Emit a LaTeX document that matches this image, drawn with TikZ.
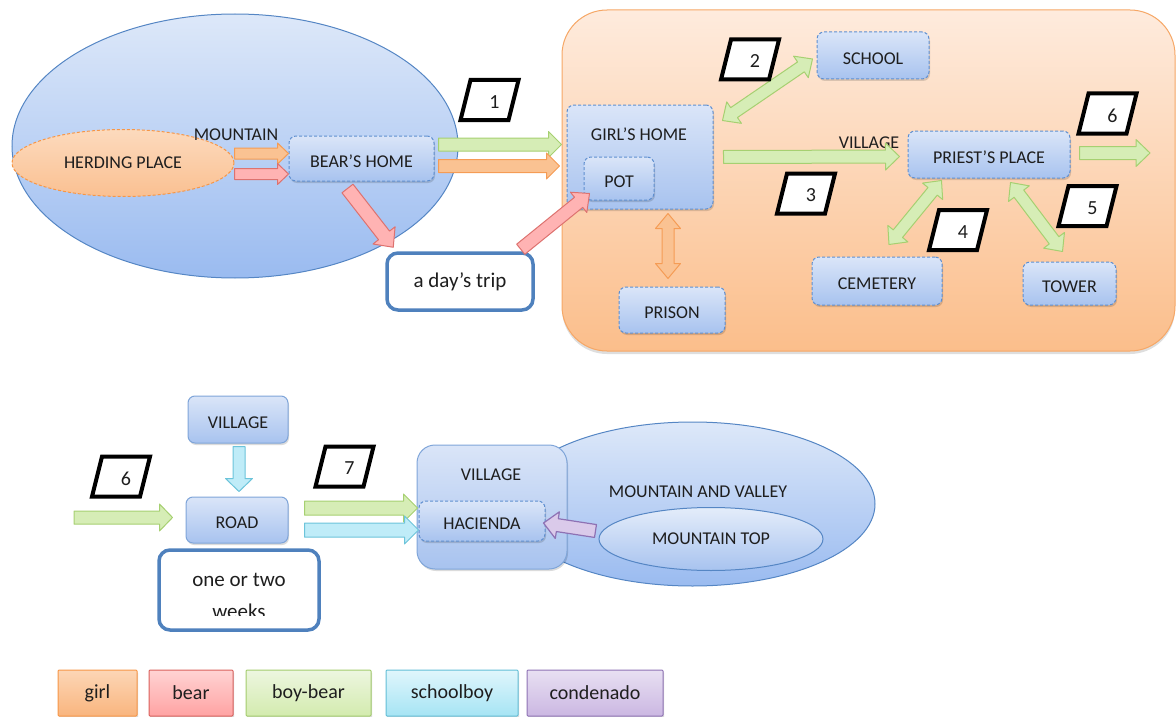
\documentclass[tikz,border=0pt]{standalone}
\usepackage{fontspec}
\setmainfont{Carlito}
\usetikzlibrary{calc,shapes.geometric,shadows}

% palette
\definecolor{boxtop}{HTML}{DAE5F8}
\definecolor{boxbot}{HTML}{A8C3EF}
\definecolor{boxedge}{HTML}{5F8FD0}
\definecolor{elltop}{HTML}{DDE8F9}
\definecolor{ellbot}{HTML}{9ABBF0}
\definecolor{elledge}{HTML}{5586C4}
\definecolor{vtop}{HTML}{FEEBDD}
\definecolor{vbot}{HTML}{FBBE8B}
\definecolor{vedge}{HTML}{F6A766}
\definecolor{ortop}{HTML}{FCD6B6}
\definecolor{orbot}{HTML}{F9B57E}
\definecolor{oredge}{HTML}{F79646}
\definecolor{rdtop}{HTML}{FFD3D3}
\definecolor{rdbot}{HTML}{FFA3A3}
\definecolor{rdedge}{HTML}{D9605C}
\definecolor{grtop}{HTML}{EDF6E0}
\definecolor{grbot}{HTML}{D3EBAE}
\definecolor{gredge}{HTML}{A3CC6D}
\definecolor{cytop}{HTML}{E0F6FC}
\definecolor{cybot}{HTML}{A6E4F4}
\definecolor{cyedge}{HTML}{62BED6}
\definecolor{putop}{HTML}{E8E0F2}
\definecolor{pubot}{HTML}{CBB7E2}
\definecolor{puedge}{HTML}{8E72B4}
\definecolor{noteedge}{HTML}{4F81BD}
\definecolor{agreen}{HTML}{D6EDB6}
\definecolor{agreenedge}{HTML}{A6D071}
\definecolor{aorange}{HTML}{FAC292}
\definecolor{aorangeedge}{HTML}{F59C55}
\definecolor{ared}{HTML}{FFB3B3}
\definecolor{arededge}{HTML}{DD726F}
\definecolor{acyan}{HTML}{BFECF8}
\definecolor{acyanedge}{HTML}{6CC4DA}
\definecolor{apurple}{HTML}{DACAEA}
\definecolor{apurpleedge}{HTML}{8E72B4}
\definecolor{ink}{HTML}{1E1E1E}

\newcommand\boxfont{\fontsize{18}{21}\selectfont}
\newcommand\bigfont{\fontsize{21}{30}\selectfont}
\newcommand\keyfont{\fontsize{20}{24}\selectfont}

% block arrow: style, tail, tip, half shaft, half head, head length
\newcommand\BlkArrow[6]{%
  \coordinate (hd) at ($(#3)!#6!(#2)$);
  \path[#1] ($(#2)!#4!90:(#3)$) -- ($(hd)!#4!90:(#3)$) -- ($(hd)!#5!90:(#3)$) -- (#3)
    -- ($(hd)!#5!-90:(#3)$) -- ($(hd)!#4!-90:(#3)$) -- ($(#2)!#4!-90:(#3)$) -- cycle;
}
% double-headed block arrow: style, end a, end b, half shaft, half head, head length
\newcommand\BlkDArrow[6]{%
  \coordinate (hda) at ($(#2)!#6!(#3)$);
  \coordinate (hdb) at ($(#3)!#6!(#2)$);
  \path[#1] (#2) -- ($(hda)!#5!90:(#3)$) -- ($(hda)!#4!90:(#3)$) -- ($(hdb)!#4!90:(#3)$)
    -- ($(hdb)!#5!90:(#3)$) -- (#3) -- ($(hdb)!#5!-90:(#3)$) -- ($(hdb)!#4!-90:(#3)$)
    -- ($(hda)!#4!-90:(#3)$) -- ($(hda)!#5!-90:(#3)$) -- cycle;
}
% slanted number tag: name, x, y, number
\newcommand\NumTag[4]{%
  \path[tagline] (#2-29,#3+20) -- (#2+19,#3+20) -- (#2+29,#3-20) -- (#2-19,#3-20) -- cycle;
  \node[tagnum] (#1) at (#2+5,#3+2) {#4};
}

\tikzset{
  every node/.style={text=ink},
  lbl/.style={font=\boxfont, inner sep=0pt},
  softshadow/.style={drop shadow={shadow xshift=1pt, shadow yshift=-2pt, opacity=0.14, fill=black}},
  place/.style={rectangle, rounded corners=7pt, draw=boxedge, line width=1pt,
    dash pattern=on 3pt off 2pt, top color=boxtop, bottom color=boxbot, font=\boxfont,
    inner sep=0pt, text height=17.4pt, text depth=0pt, softshadow},
  solidplace/.style={place, solid, draw=boxedge!80},
  hill/.style={ellipse, draw=elledge, line width=1pt, top color=elltop, bottom color=ellbot, inner sep=0pt},
  herdshape/.style={ellipse, draw=oredge, line width=1pt, dash pattern=on 3pt off 2pt,
    top color=ortop!90, bottom color=orbot!85, font=\boxfont, inner sep=0pt},
  vilarea/.style={rectangle, rounded corners=45pt, draw=vedge, line width=1pt,
    top color=vtop, bottom color=vbot, inner sep=0pt,
    drop shadow={shadow xshift=0pt, shadow yshift=-3pt, opacity=0.13, fill=black}},
  note/.style={rectangle, rounded corners=11pt, draw=noteedge, line width=3.5pt, fill=white,
    font=\bigfont, inner sep=0pt},
  key/.style={rectangle, rounded corners=1pt, line width=1pt, font=\keyfont, inner sep=0pt,
    minimum height=46pt, softshadow},
  garrow/.style={fill=agreen, draw=agreenedge, line width=1pt, line join=round},
  oarrow/.style={fill=aorange, draw=aorangeedge, line width=1pt, line join=round},
  rarrow/.style={fill=ared, draw=arededge, line width=1pt, line join=round},
  carrow/.style={fill=acyan, draw=acyanedge, line width=1pt, line join=round},
  parrow/.style={fill=apurple, draw=apurpleedge, line width=1.2pt, line join=round},
  tagline/.style={draw=black, fill=white, line width=4pt, line join=miter},
  tagnum/.style={font=\keyfont, inner sep=0pt}
}

\begin{document}
\begin{tikzpicture}[x=1pt, y=-1pt]
\useasboundingbox (0,0) rectangle (1176,717);

% ---------- mountain ----------
\node[hill, minimum width=446pt, minimum height=264pt] (mtn) at (235,146) {};
\node[herdshape, minimum width=222pt, minimum height=67pt] (herd) at (123,163) {HERDING PLACE};
\node[lbl] (mtnlbl) at (236,135) {MOUNTAIN};
\node[place, minimum width=145pt, minimum height=45pt] (bear) at (361.5,158.5) {BEAR’S HOME};

% ---------- village ----------
\node[vilarea, minimum width=613pt, minimum height=341pt] (vil) at (868.5,180.5) {};
\node[place, minimum width=146pt, minimum height=104pt] (girl) at (640,157) {};
\node[lbl] (girllbl) at (639,134) {GIRL’S HOME};
\node[place, minimum width=70pt, minimum height=43pt] (pot) at (619,178.5) {POT};
\node[place, minimum width=106pt, minimum height=46pt] (prison) at (672,310) {PRISON};
\node[place, minimum width=112pt, minimum height=47pt] (school) at (873,55.5) {SCHOOL};
\node[lbl] (vlbl) at (869,143) {VILLAGE};
\node[place, minimum width=162pt, minimum height=47pt] (priest) at (989,154.5) {PRIEST’S PLACE};
\node[place, minimum width=130pt, minimum height=48pt] (cem) at (877,281) {CEMETERY};
\node[place, minimum width=93pt, minimum height=43pt] (tower) at (1069.5,283.5) {TOWER};

\node[note, minimum width=146pt, minimum height=57pt] (trip) at (460,281.5) {a day’s trip};

% ---------- second journey ----------
\node[hill, minimum width=365pt, minimum height=164pt] (mv) at (692.5,504) {};
\node[lbl] (mvlbl) at (698,492) {MOUNTAIN AND VALLEY};
\node[hill, top color=elltop!80!white, bottom color=boxbot, minimum width=224pt, minimum height=63pt,
  font=\boxfont] (mtop) at (711,539) {MOUNTAIN TOP};
\node[solidplace, rounded corners=18pt, minimum width=150pt, minimum height=124pt] (vill2) at (492,507) {};
\node[lbl] (vill2lbl) at (491,475) {VILLAGE};
\node[place, minimum width=126pt, minimum height=40pt] (hac) at (482,521) {HACIENDA};
\node[solidplace, minimum width=100pt, minimum height=47pt] (vb) at (238,419.5) {VILLAGE};
\node[solidplace, minimum width=102pt, minimum height=46pt] (road) at (237,520) {ROAD};

\node[note, minimum width=160pt, minimum height=80pt] (weeks) at (239,590) {};
\begin{scope}
  \clip (150,540) rectangle (330,615);
  \node[font=\bigfont, inner sep=0pt, anchor=base] (weeks1) at (239,586) {one or two};
  \node[font=\bigfont, inner sep=0pt, anchor=base] (weeks2) at (239,618) {weeks};
\end{scope}

% ---------- arrows, first part ----------
\coordinate (a1s) at ($(herd.east)+(0,-9.5)$);
\coordinate (a1e) at ($(bear.west)+(0,-5)$);
\coordinate (a2s) at ($(herd.east)+(0,11)$);
\coordinate (a2e) at ($(bear.west)+(0,15.5)$);
\BlkArrow{oarrow}{a1s}{a1e}{5.5pt}{10.5pt}{11pt}
\BlkArrow{rarrow}{a2s}{a2e}{5.5pt}{10.5pt}{11pt}

\coordinate (b1s) at ($(bear.east)+(4,-14)$);
\coordinate (b1e) at ($(girl.west)+(-5,-12.5)$);
\coordinate (b2s) at ($(bear.east)+(4,7.5)$);
\coordinate (b2e) at ($(girl.west)+(-7,9)$);
\BlkArrow{garrow}{b1s}{b1e}{6.5pt}{13pt}{13pt}
\BlkArrow{oarrow}{b2s}{b2e}{6.5pt}{13pt}{13pt}

\coordinate (c1s) at ($(bear.south)+(-14,7)$);
\coordinate (c1e) at ($(trip.north west)+(8,-4)$);
\BlkArrow{rarrow}{c1s}{c1e}{7pt}{14pt}{15pt}
\coordinate (c2s) at ($(trip.north east)+(-14,-2)$);
\coordinate (c2e) at ($(pot.south west)+(6,-7)$);
\BlkArrow{rarrow}{c2s}{c2e}{6.5pt}{13pt}{14pt}

\coordinate (d1a) at ($(girl.north east)+(9,16)$);
\coordinate (d1b) at ($(school.west)+(-4,3.5)$);
\BlkDArrow{garrow}{d1a}{d1b}{6pt}{13pt}{14pt}

\coordinate (d2a) at ($(girl.south)+(28,4)$);
\coordinate (d2b) at ($(prison.north)+(-4,-8)$);
\BlkDArrow{oarrow}{d2a}{d2b}{6pt}{12.5pt}{15pt}

\coordinate (e1s) at ($(girl.east)+(10,0)$);
\coordinate (e1e) at ($(priest.west)+(-8,2)$);
\BlkArrow{garrow}{e1s}{e1e}{6.5pt}{13.5pt}{14pt}

\coordinate (f1s) at ($(priest.east)+(9,-1.5)$);
\coordinate (f1e) at (1150,153);
\BlkArrow{garrow}{f1s}{f1e}{6.5pt}{13.5pt}{14pt}

\coordinate (g1a) at ($(priest.south west)+(34,2)$);
\coordinate (g1b) at ($(cem.north)+(12,-12)$);
\BlkDArrow{garrow}{g1a}{g1b}{6pt}{13pt}{14pt}
\coordinate (g2a) at ($(priest.south east)+(-60,4)$);
\coordinate (g2b) at ($(tower.north)+(-7,-10)$);
\BlkDArrow{garrow}{g2a}{g2b}{6pt}{13pt}{14pt}

% ---------- arrows, second part ----------
\coordinate (h1s) at (74,517.5);
\coordinate (h1e) at ($(road.west)+(-13,-2.5)$);
\BlkArrow{garrow}{h1s}{h1e}{6.5pt}{13.5pt}{13pt}

\coordinate (h2s) at ($(vb.south)+(1,3)$);
\coordinate (h2e) at ($(road.north)+(2,-5)$);
\BlkArrow{carrow}{h2s}{h2e}{6pt}{13.5pt}{13pt}

\coordinate (h3s) at ($(road.east)+(16,-12)$);
\coordinate (h3e) at ($(hac.west)+(-1,-13)$);
\BlkArrow{garrow}{h3s}{h3e}{7pt}{14pt}{14pt}
\coordinate (h4s) at ($(road.east)+(16,10)$);
\coordinate (h4e) at ($(hac.west)+(0,9)$);
\BlkArrow{carrow}{h4s}{h4e}{7pt}{14pt}{14pt}

\coordinate (h5s) at ($(mtop.west)+(-3,-8)$);
\coordinate (h5e) at ($(hac.east)+(-2,2)$);
\BlkArrow{parrow}{h5s}{h5e}{6.5pt}{13.5pt}{14pt}

% ---------- number tags ----------
\NumTag{n1}{489.5}{100}{1}
\NumTag{n2}{750}{59.5}{2}
\NumTag{n3}{806}{193.5}{3}
\NumTag{n4}{958}{230}{4}
\NumTag{n5}{1087.5}{206}{5}
\NumTag{n6}{1107.5}{113.5}{6}
\NumTag{n6b}{121}{476.5}{6}
\NumTag{n7}{344.5}{466.5}{7}

% ---------- key ----------
\node[key, draw=oredge, top color=ortop, bottom color=orbot, minimum width=79pt] (kgirl) at (97.5,693) {girl};
\node[key, draw=rdedge, top color=rdtop, bottom color=rdbot, minimum width=84pt] (kbear) at (191,693) {bear};
\node[key, draw=gredge, top color=grtop, bottom color=grbot, minimum width=125pt] (kboy) at (308.5,693) {boy-bear};
\node[key, draw=cyedge, top color=cytop, bottom color=cybot, minimum width=132pt] (kschool) at (452,693) {schoolboy};
\node[key, draw=puedge, top color=putop, bottom color=pubot, minimum width=136pt] (kcond) at (595,693) {condenado};
\end{tikzpicture}
\end{document}
